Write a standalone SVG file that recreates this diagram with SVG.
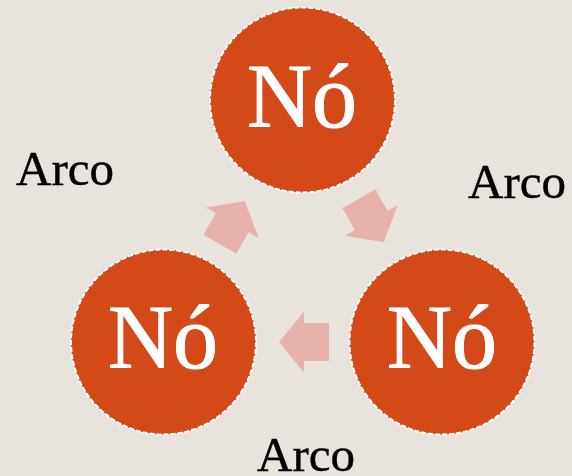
<svg xmlns="http://www.w3.org/2000/svg" xmlns:xlink="http://www.w3.org/1999/xlink" width="572" height="476" viewBox="0 0 572 476">
<defs>
<style>
.node circle { fill: #D34A18; stroke: #FFFFFF; stroke-width: 2; stroke-dasharray: 5 2; }
.node text { font-family: "Liberation Serif", "DejaVu Serif", serif; font-size: 90px; fill: #FFFFFF; stroke: #FFFFFF; stroke-width: 1; text-anchor: middle; }
.label { font-family: "Liberation Serif", "DejaVu Serif", serif; font-size: 49px; fill: #000000; stroke: #000000; stroke-width: 0.4; }
.arrow { fill: #E8B2AC; }
</style>
<polygon id="arr" points="25,0 0,-30.5 0,-19 -25,-19 -25,19 0,19 0,30.5"/>
</defs>
<rect x="0" y="0" width="572" height="476" fill="#E8E4DD"/>
<g id="connectors">
<use xlink:href="#arr" class="arrow" transform="translate(371.3,220.5) rotate(60)"/>
<use xlink:href="#arr" class="arrow" transform="translate(304,342) rotate(180)"/>
<use xlink:href="#arr" class="arrow" transform="translate(232.3,222.7) rotate(-60)"/>
<text class="label" x="16" y="185">Arco</text>
<text class="label" x="468" y="198">Arco</text>
<text class="label" x="257" y="471">Arco</text>
</g>
<g id="node-top" class="node">
<circle cx="302.5" cy="100" r="92.5"/>
<text x="302" y="127">Nó</text>
</g>
<g id="node-left" class="node">
<circle cx="163.5" cy="342" r="92.5"/>
<text x="163" y="368">Nó</text>
</g>
<g id="node-right" class="node">
<circle cx="442" cy="342" r="92.5"/>
<text x="442" y="368">Nó</text>
</g>
</svg>
